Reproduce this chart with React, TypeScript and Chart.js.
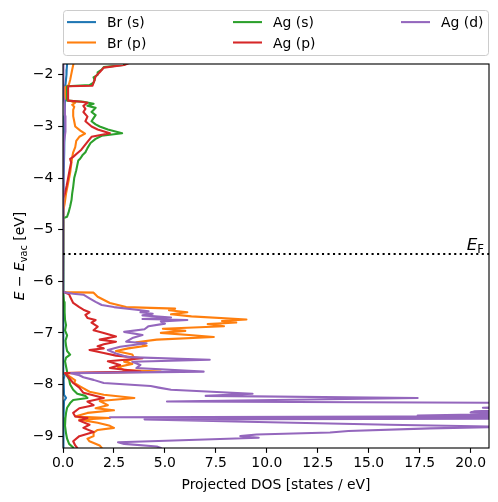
import React, { useEffect, useRef } from "react";
import { Chart, registerables } from "chart.js";

Chart.register(...registerables);

const FONT = '"DejaVu Sans", sans-serif';

const X_MIN = 0;
const X_MAX = 20.9;
const Y_MIN = -9.23;
const Y_MAX = -1.79;
const X_STEP = 2.5;
const Y_STEP = 1;
const FERMI_LEVEL = -5.47;

const SERIES_NAMES = ["Br (s)", "Br (p)", "Ag (s)", "Ag (p)", "Ag (d)"];
const SERIES_COLORS = ["#1f77b4", "#ff7f0e", "#2ca02c", "#d62728", "#9467bd"];

// [energy (eV), projected DOS]
const brS: [number, number][] = [
  [-1.7, 0.22], [-1.8, 0.2], [-1.9, 0.18], [-2.0, 0.17], [-2.2, 0.12], [-2.5, 0.1],
  [-2.8, 0.08], [-3.1, 0.07], [-3.5, 0.05], [-4.0, 0.03], [-4.5, 0.02], [-4.8, 0],
  [-6.2, 0], [-6.5, 0.01], [-7.0, 0.02], [-7.78, 0.03], [-7.82, 0.08], [-7.9, 0.03],
  [-8.2, 0.05], [-8.26, 0.15], [-8.32, 0.05], [-8.6, 0.03], [-9.0, 0.02], [-9.3, 0.02],
];

const brP: [number, number][] = [
  [-1.7, 0.55], [-1.81, 0.5], [-1.9, 0.45], [-2.0, 0.4], [-2.1, 0.35], [-2.2, 0.28],
  [-2.24, 0.12], [-2.45, 0.1], [-2.49, 0.25], [-2.54, 0.6], [-2.58, 0.45], [-2.62, 0.55],
  [-2.68, 0.5], [-2.8, 0.5], [-2.9, 0.55], [-3.0, 0.6], [-3.08, 0.85], [-3.14, 1.08],
  [-3.2, 0.8], [-3.28, 0.65], [-3.4, 0.6], [-3.5, 0.5], [-3.6, 0.45], [-3.75, 0.4],
  [-3.9, 0.35], [-4.1, 0.25], [-4.3, 0.15], [-4.5, 0.08], [-4.62, 0.02], [-4.68, 0],
  [-6.21, 0], [-6.22, 1.5], [-6.3, 1.7], [-6.42, 2.3], [-6.5, 3.1], [-6.53, 5.5],
  [-6.56, 5.2], [-6.6, 6.1], [-6.64, 5.3], [-6.68, 6.3], [-6.74, 9.0], [-6.77, 7.8],
  [-6.8, 8.5], [-6.83, 7.1], [-6.87, 7.9], [-6.92, 4.9], [-6.96, 6.0], [-7.0, 4.8],
  [-7.05, 6.5], [-7.08, 7.4], [-7.13, 4.6], [-7.18, 3.6], [-7.25, 4.1], [-7.3, 3.2],
  [-7.35, 2.6], [-7.42, 3.4], [-7.5, 3.5], [-7.56, 3.0], [-7.6, 3.4], [-7.66, 2.7],
  [-7.72, 3.0], [-7.75, 4.8], [-7.78, 0.1], [-7.85, 0.35], [-7.92, 0.6], [-7.97, 0.55],
  [-8.05, 0.9], [-8.14, 1.3], [-8.2, 2.0], [-8.26, 3.5], [-8.32, 1.8], [-8.4, 2.2],
  [-8.46, 1.6], [-8.5, 2.5], [-8.55, 1.2], [-8.62, 0.6], [-8.65, 2.3], [-8.68, 0.8],
  [-8.74, 1.7], [-8.8, 2.3], [-8.84, 2.5], [-8.88, 1.7], [-8.93, 1.5], [-9.0, 1.5],
  [-9.05, 1.2], [-9.1, 1.3], [-9.18, 1.8], [-9.23, 1.9], [-9.3, 1.8],
];

const agS: [number, number][] = [
  [-1.7, 3.6], [-1.81, 2.95], [-1.85, 2.0], [-1.9, 1.9], [-1.95, 1.7], [-2.0, 1.7],
  [-2.05, 1.5], [-2.1, 1.55], [-2.15, 1.5], [-2.2, 1.3], [-2.22, 0.2], [-2.5, 0.2],
  [-2.52, 1.0], [-2.56, 1.5], [-2.6, 1.2], [-2.64, 1.6], [-2.68, 1.5], [-2.72, 1.4],
  [-2.78, 1.6], [-2.84, 1.5], [-2.9, 1.4], [-2.96, 1.6], [-3.0, 1.8], [-3.06, 2.2],
  [-3.13, 2.9], [-3.18, 1.9], [-3.24, 1.6], [-3.32, 1.35], [-3.42, 1.2], [-3.5, 1.1],
  [-3.56, 0.95], [-3.62, 0.85], [-3.66, 0.75], [-3.75, 0.7], [-3.85, 0.65], [-4.0, 0.55],
  [-4.17, 0.5], [-4.3, 0.45], [-4.42, 0.42], [-4.55, 0.35], [-4.67, 0.27], [-4.75, 0.2],
  [-4.78, 0], [-6.22, 0], [-6.25, 0.02], [-6.4, 0.05], [-6.6, 0.08], [-6.75, 0.1],
  [-6.85, 0.15], [-6.95, 0.1], [-7.05, 0.2], [-7.15, 0.12], [-7.25, 0.15], [-7.35, 0.2],
  [-7.42, 0.35], [-7.48, 0.15], [-7.55, 0.1], [-7.65, 0.15], [-7.75, 0.2], [-7.8, 0.15],
  [-7.9, 0.3], [-8.0, 0.35], [-8.1, 0.5], [-8.18, 0.7], [-8.22, 1.1], [-8.26, 1.2],
  [-8.3, 0.5], [-8.36, 0.35], [-8.45, 0.2], [-8.55, 0.15], [-8.65, 0.12], [-8.8, 0.1],
  [-8.95, 0.15], [-9.05, 0.2], [-9.15, 0.3], [-9.22, 0.5], [-9.3, 0.5],
];

const agP: [number, number][] = [
  [-1.7, 3.7], [-1.81, 3.0], [-1.86, 2.0], [-1.95, 1.8], [-2.03, 1.6], [-2.1, 1.55],
  [-2.15, 1.5], [-2.21, 1.45], [-2.22, 0.25], [-2.5, 0.25], [-2.52, 0.9], [-2.54, 1.2],
  [-2.6, 1.0], [-2.66, 1.1], [-2.72, 1.0], [-2.81, 1.2], [-2.9, 1.1], [-3.0, 1.4],
  [-3.06, 1.7], [-3.13, 2.3], [-3.2, 1.4], [-3.3, 1.2], [-3.45, 0.9], [-3.52, 0.7],
  [-3.59, 0.5], [-3.63, 0.35], [-3.7, 0.4], [-3.85, 0.32], [-4.0, 0.25], [-4.15, 0.18],
  [-4.29, 0.1], [-4.4, 0], [-6.2, 0], [-6.25, 0.3], [-6.3, 0.35], [-6.42, 0.5],
  [-6.5, 0.8], [-6.55, 1.0], [-6.6, 1.3], [-6.65, 1.1], [-6.71, 1.2], [-6.75, 1.6],
  [-6.8, 1.4], [-6.88, 1.7], [-6.95, 1.5], [-7.0, 2.0], [-7.07, 2.6], [-7.13, 1.8],
  [-7.17, 2.6], [-7.22, 2.0], [-7.26, 1.7], [-7.3, 2.0], [-7.33, 1.3], [-7.39, 2.0],
  [-7.44, 2.6], [-7.49, 3.9], [-7.55, 2.2], [-7.62, 2.8], [-7.68, 2.3], [-7.75, 3.8],
  [-7.78, 0.1], [-7.85, 0.25], [-7.97, 0.5], [-8.06, 0.8], [-8.16, 1.0], [-8.26, 2.0],
  [-8.33, 1.2], [-8.4, 1.5], [-8.46, 0.8], [-8.55, 0.5], [-8.62, 0.6], [-8.65, 1.2],
  [-8.7, 0.8], [-8.78, 1.3], [-8.84, 1.0], [-8.92, 1.5], [-9.0, 0.8], [-9.1, 0.5],
  [-9.18, 0.6], [-9.23, 0.7], [-9.3, 0.7],
];

const agD: [number, number][] = [
  [-1.7, 0.02], [-2.4, 0.02], [-2.55, 0.08], [-2.8, 0.1], [-3.1, 0.12], [-3.3, 0.05],
  [-3.8, 0.02], [-4.5, 0], [-6.21, 0], [-6.24, 0.5], [-6.26, 1.0], [-6.33, 1.3],
  [-6.4, 1.6], [-6.46, 1.9], [-6.5, 2.5], [-6.55, 3.6], [-6.58, 4.2], [-6.6, 3.8],
  [-6.63, 4.4], [-6.66, 3.9], [-6.7, 5.3], [-6.73, 3.9], [-6.75, 6.1], [-6.78, 4.8],
  [-6.82, 5.0], [-6.87, 4.2], [-6.93, 4.0], [-6.98, 3.0], [-7.04, 3.9], [-7.1, 3.4],
  [-7.17, 3.1], [-7.2, 4.1], [-7.27, 2.8], [-7.33, 2.2], [-7.4, 2.6], [-7.47, 3.2],
  [-7.52, 7.2], [-7.56, 3.4], [-7.62, 3.8], [-7.68, 3.6], [-7.75, 6.9], [-7.78, 0.4],
  [-7.82, 0.8], [-7.86, 1.0], [-7.91, 1.5], [-7.97, 2.0], [-8.03, 4.3], [-8.06, 4.7],
  [-8.1, 5.3], [-8.18, 9.3], [-8.22, 7.0], [-8.26, 17.4], [-8.33, 5.1], [-8.36, 25],
  [-8.43, 22], [-8.45, 20.6], [-8.48, 23], [-8.52, 20.2], [-8.54, 20.0], [-8.57, 22],
  [-8.6, 17.4], [-8.615, 23], [-8.635, 2.3], [-8.655, 30], [-8.675, 4.0], [-8.72, 9],
  [-8.78, 16], [-8.82, 22], [-8.85, 18], [-8.9, 14], [-8.93, 13.1], [-8.97, 9.5],
  [-9.0, 8.7], [-9.03, 9.6], [-9.1, 4.3], [-9.12, 2.7], [-9.15, 3.0], [-9.2, 4.6],
  [-9.23, 4.8], [-9.3, 5.0],
];

const SERIES_DATA = [brS, brP, agS, agP, agD];

const LW = 2.08; // 1.5 pt at 100 dpi
const AXIS_LW = 1.11; // 0.8 pt
const TICK_LEN = 4.86; // 3.5 pt

type Run = { text: string; font: string; dy?: number };

function runsWidth(ctx: CanvasRenderingContext2D, runs: Run[]) {
  let w = 0;
  for (const r of runs) {
    ctx.font = r.font;
    w += ctx.measureText(r.text).width;
  }
  return w;
}

function drawRuns(ctx: CanvasRenderingContext2D, runs: Run[], x: number, y: number) {
  let cx = x;
  ctx.textAlign = "left";
  ctx.textBaseline = "alphabetic";
  for (const r of runs) {
    ctx.font = r.font;
    ctx.fillText(r.text, cx, y + (r.dy || 0));
    cx += ctx.measureText(r.text).width;
  }
}

const decorPlugin = {
  id: "decor",
  afterDraw(chart: any) {
    const ctx: CanvasRenderingContext2D = chart.ctx;
    const a = chart.chartArea;
    ctx.save();
    // frame
    ctx.strokeStyle = "#000";
    ctx.lineWidth = AXIS_LW;
    ctx.strokeRect(a.left, a.top, a.right - a.left, a.bottom - a.top);

    ctx.fillStyle = "#000";
    const fs = 13.9;
    const normal = `${fs}px ${FONT}`;
    const italic = `italic ${fs}px ${FONT}`;
    const sub = `${(fs * 0.7).toFixed(2)}px ${FONT}`;

    // E_F label
    const efs = 16.7;
    const efRuns: Run[] = [
      { text: "E", font: `italic ${efs}px ${FONT}` },
      { text: "F", font: `${(efs * 0.7).toFixed(2)}px ${FONT}`, dy: 3.5 },
    ];
    const efW = runsWidth(ctx, efRuns);
    drawRuns(ctx, efRuns, 484 - efW, 249.5);

    // x label
    ctx.font = normal;
    ctx.textAlign = "center";
    ctx.textBaseline = "alphabetic";
    ctx.fillText("Projected DOS [states / eV]", (a.left + a.right) / 2, 489);

    // y label
    const yRuns: Run[] = [
      { text: "E", font: italic },
      { text: " \u2212 ", font: normal },
      { text: "E", font: italic },
      { text: "vac", font: sub, dy: 2.8 },
      { text: " [eV]", font: normal },
    ];
    const yW = runsWidth(ctx, yRuns);
    ctx.save();
    ctx.translate(24, (a.top + a.bottom) / 2);
    ctx.rotate(-Math.PI / 2);
    drawRuns(ctx, yRuns, -yW / 2, 0);
    ctx.restore();

    // legend
    const lx0 = 63.5, ly0 = 10.5, lx1 = 488.5, ly1 = 55.5, rr = 3;
    ctx.beginPath();
    ctx.moveTo(lx0 + rr, ly0);
    ctx.lineTo(lx1 - rr, ly0);
    ctx.quadraticCurveTo(lx1, ly0, lx1, ly0 + rr);
    ctx.lineTo(lx1, ly1 - rr);
    ctx.quadraticCurveTo(lx1, ly1, lx1 - rr, ly1);
    ctx.lineTo(lx0 + rr, ly1);
    ctx.quadraticCurveTo(lx0, ly1, lx0, ly1 - rr);
    ctx.lineTo(lx0, ly0 + rr);
    ctx.quadraticCurveTo(lx0, ly0, lx0 + rr, ly0);
    ctx.closePath();
    ctx.fillStyle = "rgba(255,255,255,0.8)";
    ctx.fill();
    ctx.strokeStyle = "#cccccc";
    ctx.lineWidth = 1;
    ctx.stroke();

    const colX = [67, 233, 401];
    const rowBase = [27.3, 47.7];
    SERIES_NAMES.forEach((name, i) => {
      const col = Math.floor(i / 2);
      const row = i % 2;
      const hx = colX[col];
      const by = rowBase[row];
      ctx.strokeStyle = SERIES_COLORS[i];
      ctx.lineWidth = LW;
      ctx.beginPath();
      ctx.moveTo(hx, by - 5.2);
      ctx.lineTo(hx + 29, by - 5.2);
      ctx.stroke();
      ctx.fillStyle = "#000";
      ctx.font = normal;
      ctx.textAlign = "left";
      ctx.textBaseline = "alphabetic";
      ctx.fillText(name, hx + 40, by);
    });
    ctx.restore();
  },
};

export default function App() {
  const ref = useRef<HTMLCanvasElement>(null);

  useEffect(() => {
    const canvas = ref.current;
    if (!canvas) return;
    Chart.defaults.font.family = FONT;

    const datasets: any[] = SERIES_DATA.map((s, i) => ({
      label: SERIES_NAMES[i],
      data: s.map(([e, d]) => ({ x: d, y: e })),
      borderColor: SERIES_COLORS[i],
      backgroundColor: SERIES_COLORS[i],
      borderWidth: LW,
      borderJoinStyle: "round",
      pointRadius: 0,
      pointHoverRadius: 0,
      showLine: true,
      fill: false,
      tension: 0,
      clip: 0,
      order: SERIES_DATA.length - i,
    }));
    datasets.push({
      label: "E_F",
      data: [
        { x: X_MIN, y: FERMI_LEVEL },
        { x: X_MAX, y: FERMI_LEVEL },
      ],
      borderColor: "#000",
      borderWidth: LW,
      borderDash: [2.08, 3.43],
      pointRadius: 0,
      showLine: true,
      fill: false,
      clip: 0,
      order: 0,
    });

    const tickFont = { family: FONT, size: 13.9 };
    const gridOpts = {
      display: true,
      drawOnChartArea: false,
      drawTicks: true,
      tickLength: TICK_LEN,
      tickWidth: AXIS_LW,
      tickColor: "#000",
    };
    const chart = new Chart(canvas, {
      type: "scatter",
      data: { datasets },
      options: {
        responsive: false,
        animation: false,
        devicePixelRatio: 1,
        events: [],
        layout: { padding: { left: 0, top: 64, right: 9, bottom: 0 } },
        plugins: { legend: { display: false }, tooltip: { enabled: false } },
        scales: {
          x: {
            type: "linear",
            min: X_MIN,
            max: X_MAX,
            border: { display: false },
            grid: gridOpts,
            ticks: {
              stepSize: X_STEP,
              includeBounds: false,
              autoSkip: false,
              maxRotation: 0,
              padding: 2.2,
              color: "#000",
              font: tickFont,
              callback: (v: any) => Number(v).toFixed(1),
            },
            afterFit: (s: any) => {
              s.height = 54;
            },
          },
          y: {
            type: "linear",
            min: Y_MIN,
            max: Y_MAX,
            border: { display: false },
            grid: gridOpts,
            ticks: {
              stepSize: Y_STEP,
              includeBounds: false,
              autoSkip: false,
              padding: 4.86,
              color: "#000",
              font: tickFont,
              callback: (v: any) => {
                const n = Number(v);
                return n < 0 ? "\u2212" + Math.abs(n) : String(n);
              },
            },
            afterFit: (s: any) => {
              s.width = 63;
            },
          },
        },
      },
      plugins: [decorPlugin],
    });
    return () => chart.destroy();
  }, []);

  return (
    <div style={{ position: "fixed", left: 0, top: 0, width: 498, height: 502, background: "#fff" }}>
      <canvas ref={ref} width={498} height={502} style={{ width: 498, height: 502, display: "block" }} />
    </div>
  );
}
